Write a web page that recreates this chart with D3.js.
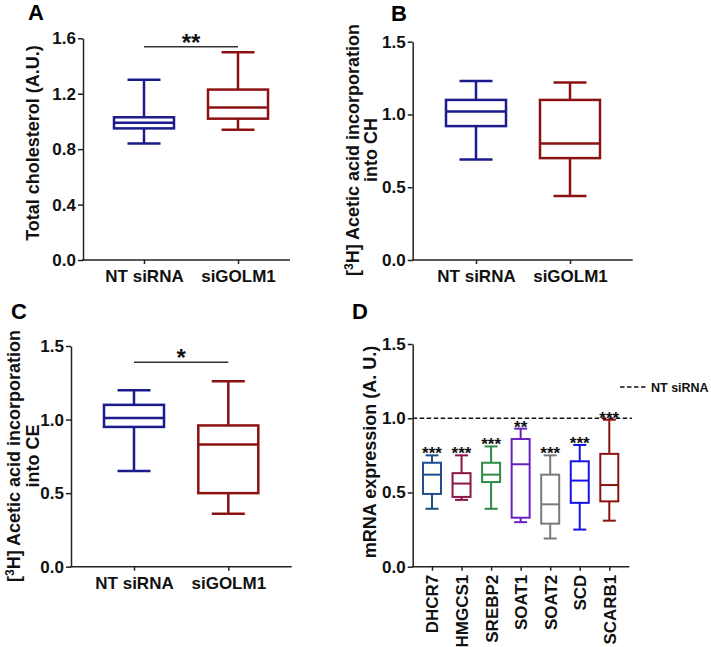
<!DOCTYPE html>
<html>
<head>
<meta charset="utf-8">
<script src="https://cdn.jsdelivr.net/npm/d3@7"></script>
<style>
  body { margin: 0; background: #fff; }
  svg { display: block; font-family: "Liberation Sans", Arial, sans-serif; font-weight: bold; }
</style>
</head>
<body>
<svg id="chart" width="711" height="647"></svg>
<script>
// Data (box stats are [min, q1, median, q3, max])
const groups = ["NT siRNA", "siGOLM1"];
const genes = ["DHCR7", "HMGCS1", "SREBP2", "SOAT1", "SOAT2", "SCD", "SCARB1"];

const totalCholesterol = [[0.84, 0.95, 0.99, 1.03, 1.30], [0.94, 1.02, 1.10, 1.23, 1.50]];
const acetateCH = [[0.69, 0.92, 1.02, 1.10, 1.23], [0.44, 0.70, 0.80, 1.10, 1.22]];
const acetateCE = [[0.65, 0.95, 1.01, 1.10, 1.20], [0.36, 0.50, 0.83, 0.96, 1.26]];
const mrnaExpression = [
  [0.39, 0.49, 0.62, 0.70, 0.75],
  [0.45, 0.47, 0.56, 0.63, 0.75],
  [0.39, 0.57, 0.62, 0.70, 0.81],
  [0.30, 0.33, 0.69, 0.86, 0.93],
  [0.19, 0.29, 0.42, 0.62, 0.75],
  [0.25, 0.43, 0.58, 0.71, 0.82],
  [0.31, 0.44, 0.55, 0.76, 0.99]
];
const geneStars = ["***", "***", "***", "**", "***", "***", "***"];
const ntReference = 1.0;

const ticksA = [0, 0.4, 0.8, 1.2, 1.6];
const ticksBCD = [0, 0.5, 1.0, 1.5];

const groupColors = ["#1b1b8e", "#8c1212"];
const geneColors = ["#1f4e8e", "#8e1448", "#2e8a47", "#6a22be", "#7a7a7a", "#1414e6", "#8c1212"];

const svg = d3.select("#chart");
const AXIS_COLOR = "#222";

// Panel layouts
const panels = [
  {letter: "A", lx: 28, ly: 20, left: 83, right: 290, top: 38.3, bottom: 260, max: 1.6, ticks: ticksA,
   cats: groups, centers: [144, 238], data: totalCholesterol, colors: groupColors, boxW: 60, capW: 33, sw: 2.5,
   title: [["Total cholesterol (A.U.)"]], titleX: [33], titleY: 143,
   sig: {text: "**", y: 46.7}},
  {letter: "B", lx: 391, ly: 21, left: 412.7, right: 632.7, top: 41.7, bottom: 260, max: 1.5, ticks: ticksBCD,
   cats: groups, centers: [476, 570], data: acetateCH, colors: groupColors, boxW: 60, capW: 33, sw: 2.5,
   title: [["[", "3", "H] Acetic acid incorporation"], ["into CH"]], titleX: [353, 371], titleY: 150},
  {letter: "C", lx: 11, ly: 319, left: 71, right: 291.7, top: 346, bottom: 566.7, max: 1.5, ticks: ticksBCD,
   cats: groups, centers: [134, 228.3], data: acetateCE, colors: groupColors, boxW: 60, capW: 33, sw: 2.5,
   title: [["[", "3", "H] Acetic acid incorporation"], ["into CE"]], titleX: [14, 33], titleY: 456,
   sig: {text: "*", y: 362.3}},
  {letter: "D", lx: 352, ly: 319, left: 412.7, right: 629.3, top: 344, bottom: 566.7, max: 1.5, ticks: ticksBCD,
   cats: genes, centers: [432, 609.3], data: mrnaExpression, colors: geneColors, boxW: 18, capW: 13, sw: 2,
   title: [["mRNA expression (A. U.)"]], titleX: [370], titleY: 452, rotateLabels: true}
];

const drawPanel = (p) => {
  const g = svg.append("g");

  const y = d3.scaleLinear().domain([0, p.max]).range([p.bottom, p.top]);
  const x = d3.scalePoint().domain(p.cats).range(p.centers);

  // Panel letter
  g.append("text")
    .attr("x", p.lx).attr("y", p.ly)
    .attr("font-size", "22px")
    .text(p.letter);

  // Y axis
  const yAxis = g.append("g")
    .attr("transform", `translate(${p.left},0)`)
    .call(d3.axisLeft(y).tickValues(p.ticks).tickFormat(d3.format(".1f")).tickSize(5).tickSizeOuter(0));
  yAxis.select(".domain").attr("stroke", AXIS_COLOR).attr("stroke-width", 1.5);
  yAxis.selectAll(".tick line").attr("stroke", AXIS_COLOR).attr("stroke-width", 1.5);
  yAxis.selectAll(".tick text").attr("font-size", "17px").attr("font-family", null).attr("fill", "#111").attr("x", -7);

  // X axis (full-width base line, ticks at category centres)
  g.append("line")
    .attr("x1", p.left - 0.75).attr("x2", p.right)
    .attr("y1", p.bottom).attr("y2", p.bottom)
    .attr("stroke", AXIS_COLOR).attr("stroke-width", 1.5);
  const xAxis = g.append("g")
    .attr("transform", `translate(0,${p.bottom})`)
    .call(d3.axisBottom(x).tickSize(4).tickPadding(6));
  xAxis.select(".domain").remove();
  xAxis.selectAll(".tick line").attr("stroke", AXIS_COLOR).attr("stroke-width", 1.5);
  xAxis.selectAll(".tick text").attr("font-size", "17px").attr("font-family", null).attr("fill", "#111");
  if (p.rotateLabels) {
    xAxis.selectAll(".tick text")
      .attr("transform", "rotate(-90)")
      .attr("text-anchor", "end")
      .attr("x", -8).attr("y", 0).attr("dy", "0.35em");
  }

  // Y title
  const title = g.append("text")
    .attr("transform", `rotate(-90)`)
    .attr("text-anchor", "middle")
    .attr("font-size", "18px")
    .attr("fill", "#111");
  p.title.forEach((line, i) => {
    const t = title.append("tspan")
      .attr("x", -p.titleY).attr("y", p.titleX[i] + 6);
    if (line.length === 1) {
      t.text(line[0]);
    } else {
      t.append("tspan").text(line[0]);
      t.append("tspan").attr("font-size", "12px").attr("dy", -6).text(line[1]);
      t.append("tspan").attr("dy", 6).text(line[2]);
    }
  });

  // NT siRNA reference line + legend (panel D)
  if (p.rotateLabels) {
    g.append("line")
      .attr("x1", p.left).attr("x2", p.right + 2.5)
      .attr("y1", y(ntReference)).attr("y2", y(ntReference))
      .attr("stroke", "#111").attr("stroke-width", 1.5).attr("stroke-dasharray", "4.5,2.5");
    g.append("line")
      .attr("x1", 620).attr("x2", 647).attr("y1", 387).attr("y2", 387)
      .attr("stroke", "#111").attr("stroke-width", 1.5).attr("stroke-dasharray", "4.5,2.5");
    g.append("text")
      .attr("x", 651).attr("y", 391.5)
      .attr("font-size", "12.5px").attr("fill", "#111")
      .text("NT siRNA");
  }

  // Boxes
  const boxes = g.selectAll(".box")
    .data(p.data)
    .join("g")
    .attr("class", "box")
    .attr("stroke", (d, i) => p.colors[i])
    .attr("stroke-width", p.sw)
    .attr("fill", "none");

  boxes.append("line")
    .attr("x1", (d, i) => x(p.cats[i])).attr("x2", (d, i) => x(p.cats[i]))
    .attr("y1", d => y(d[0])).attr("y2", d => y(d[1]));
  boxes.append("line")
    .attr("x1", (d, i) => x(p.cats[i])).attr("x2", (d, i) => x(p.cats[i]))
    .attr("y1", d => y(d[3])).attr("y2", d => y(d[4]));
  [0, 4].forEach(k => {
    boxes.append("line")
      .attr("x1", (d, i) => x(p.cats[i]) - p.capW / 2).attr("x2", (d, i) => x(p.cats[i]) + p.capW / 2)
      .attr("y1", d => y(d[k])).attr("y2", d => y(d[k]));
  });
  boxes.append("rect")
    .attr("x", (d, i) => x(p.cats[i]) - p.boxW / 2)
    .attr("width", p.boxW)
    .attr("y", d => y(d[3]))
    .attr("height", d => y(d[1]) - y(d[3]))
    .attr("fill", "#fff");
  boxes.append("line")
    .attr("x1", (d, i) => x(p.cats[i]) - p.boxW / 2).attr("x2", (d, i) => x(p.cats[i]) + p.boxW / 2)
    .attr("y1", d => y(d[2])).attr("y2", d => y(d[2]));

  // Stars above each gene (panel D)
  if (p.rotateLabels) {
    g.selectAll(".stars")
      .data(p.data)
      .join("text")
      .attr("class", "stars")
      .attr("x", (d, i) => x(p.cats[i]))
      .attr("y", d => y(d[4]) + 4)
      .attr("text-anchor", "middle")
      .attr("font-size", "17px")
      .attr("fill", "#111")
      .text((d, i) => geneStars[i]);
  }

  // Significance bar between groups
  if (p.sig) {
    g.append("line")
      .attr("x1", x(p.cats[0])).attr("x2", x(p.cats[1]))
      .attr("y1", p.sig.y).attr("y2", p.sig.y)
      .attr("stroke", "#333").attr("stroke-width", 1.5);
    g.append("text")
      .attr("x", (x(p.cats[0]) + x(p.cats[1])) / 2)
      .attr("y", p.sig.y + 4)
      .attr("text-anchor", "middle")
      .attr("font-size", "24px")
      .attr("fill", "#111")
      .text(p.sig.text);
  }
};

panels.forEach(drawPanel);
</script>
</body>
</html>
